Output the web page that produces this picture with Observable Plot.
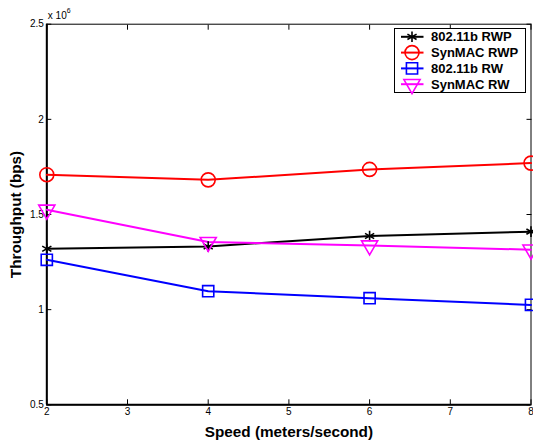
<!DOCTYPE html>
<html>
<head>
<meta charset="utf-8">
<script src="https://cdn.jsdelivr.net/npm/d3@7"></script>
<script src="https://cdn.jsdelivr.net/npm/@observablehq/plot@0.6"></script>
<style>
  html, body { margin: 0; padding: 0; background: #fff; }
  #chart { position: relative; width: 533px; height: 443px; }
</style>
</head>
<body>
<div id="chart"></div>
<script>
// Mobility speeds (m/s) on the x axis
const speeds = [2, 4, 6, 8];
// Throughput in units of 10^6 bps
const rwp80211b = [1.320, 1.332, 1.387, 1.410];
const rwpSynMAC = [1.709, 1.682, 1.737, 1.770];
const rw80211b  = [1.262, 1.097, 1.060, 1.025];
const rwSynMAC  = [1.525, 1.355, 1.337, 1.315];

const seriesNames   = ["802.11b RWP", "SynMAC RWP", "802.11b RW", "SynMAC RW"];
const seriesValues  = [rwp80211b, rwpSynMAC, rw80211b, rwSynMAC];
const seriesColors  = ["#000000", "#ff0000", "#0000ff", "#ff00ff"];
const seriesSymbols = ["asterisk", "circle", "square", "triangle"];
const seriesRadius  = [5, 7, 6.3, 6];
const seriesRotate  = [0, 0, 0, 180];

const xTicks = [2, 3, 4, 5, 6, 7, 8];
const yTicks = [0.5, 1, 1.5, 2, 2.5];

const font = "'Liberation Sans', Arial, Helvetica, sans-serif";

// one row per (series, speed) point
const series = seriesNames.map((name, i) => ({
  name,
  color: seriesColors[i],
  symbol: seriesSymbols[i],
  r: seriesRadius[i],
  rotate: seriesRotate[i],
  rows: speeds.map((s, j) => ({series: name, speed: s, tput: seriesValues[i][j]}))
}));

const marks = [
  Plot.frame({stroke: "#000", strokeWidth: 1}),
  Plot.ruleX([xTicks[0]], {stroke: "#000", strokeWidth: 2}),
  Plot.ruleY([yTicks[0]], {stroke: "#000", strokeWidth: 2}),
  Plot.axisX({ticks: xTicks, tickSize: -5, tickPadding: 8, label: null, fontSize: 10, tickFormat: d => String(d)}),
  Plot.axisX({anchor: "top", ticks: xTicks, tickSize: -5, tickFormat: () => "", label: null}),
  Plot.axisY({ticks: yTicks, tickSize: -5, tickPadding: 8, label: null, fontSize: 10, tickFormat: d => String(d)}),
  Plot.axisY({anchor: "right", ticks: yTicks, tickSize: -5, tickFormat: () => "", label: null})
];

for (const s of series) {
  marks.push(Plot.line(s.rows, {x: "speed", y: "tput", stroke: s.color, strokeWidth: 2}));
}
for (const s of series) {
  marks.push(Plot.dot(s.rows, {
    x: "speed", y: "tput", symbol: () => s.symbol, r: s.r, rotate: s.rotate,
    stroke: s.color, fill: "none", strokeWidth: 1.6
  }));
}

// axis titles and the scale exponent
marks.push(
  Plot.text(["Speed (meters/second)"], {
    frameAnchor: "bottom", dy: 27, textAnchor: "middle", lineAnchor: "middle",
    fontWeight: "bold", fontSize: 15.3, fill: "#000"
  }),
  Plot.text(["Throughput (bps)"], {
    frameAnchor: "left", dx: -31, rotate: -90, textAnchor: "middle", lineAnchor: "middle",
    fontWeight: "bold", fontSize: 15.3, fill: "#000"
  }),
  Plot.text(["x 10"], {frameAnchor: "top-left", dx: 1, dy: -8, textAnchor: "start", lineAnchor: "middle", fontSize: 10, fill: "#000"}),
  Plot.text(["6"], {frameAnchor: "top-left", dx: 20, dy: -13, textAnchor: "start", lineAnchor: "middle", fontSize: 7, fill: "#000"})
);

const chart = Plot.plot({
  width: 533,
  height: 443,
  marginLeft: 46.3,
  marginRight: 2.5,
  marginTop: 23.7,
  marginBottom: 38.7,
  x: {domain: [2, 8]},
  y: {domain: [0.5, 2.5]},
  style: {fontFamily: font, fontSize: "11px", color: "#000", background: "#fff", overflow: "visible"},
  marks
});

document.getElementById("chart").appendChild(chart);

// legend box in the upper-right corner of the plot area
const svg = d3.select(chart);
const legend = svg.append("g").attr("transform", "translate(394.5,28.5)");
legend.append("rect")
  .attr("width", 131).attr("height", 64)
  .attr("fill", "#fff").attr("stroke", "#000").attr("stroke-width", 1);

const symbolTypes = {
  asterisk: d3.symbolAsterisk, circle: d3.symbolCircle,
  square: d3.symbolSquare, triangle: d3.symbolTriangle
};

series.forEach((s, i) => {
  const g = legend.append("g").attr("transform", `translate(0,${8.3 + i * 15.8})`);
  g.append("line")
    .attr("x1", 6.5).attr("x2", 29)
    .attr("stroke", s.color).attr("stroke-width", 2);
  g.append("path")
    .attr("transform", `translate(17.5,0) rotate(${s.rotate})`)
    .attr("d", d3.symbol(symbolTypes[s.symbol], Math.PI * s.r * s.r)())
    .attr("fill", "none").attr("stroke", s.color).attr("stroke-width", 1.6);
  g.append("text")
    .attr("x", 36.5).attr("dy", "0.36em")
    .attr("text-anchor", "start")
    .attr("font-family", font).attr("font-size", 13).attr("font-weight", "bold")
    .attr("fill", "#000")
    .text(s.name);
});
</script>
</body>
</html>
